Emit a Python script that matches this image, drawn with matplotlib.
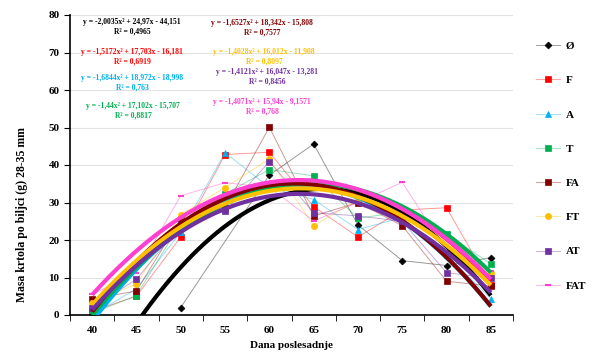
import numpy as np
import matplotlib
matplotlib.use("Agg")
import matplotlib.pyplot as plt
from matplotlib.lines import Line2D

plt.rcParams["font.family"] = ["Liberation Serif", "DejaVu Serif"]
plt.rcParams["font.weight"] = "bold"

# Days after planting (category axis)
days = [40, 45, 50, 55, 60, 65, 70, 75, 80, 85]
nan = np.nan

# Tuber mass per plant (g), 28-35 mm fraction
ser_0 = [nan, nan, 2.0, nan, 37.3, 45.6, 24.0, 14.5, 13.2, 15.3]
ser_F = [1.0, 5.0, 20.8, 42.8, 43.4, 28.9, 20.8, 28.0, 28.6, 8.0]
ser_A = [0.0, 7.0, 22.1, 43.3, 34.0, 30.8, 22.8, 26.0, 16.0, 4.4]
ser_T = [0.5, 5.2, 24.5, 32.3, 38.8, 37.1, 25.8, 27.5, 21.6, 13.6]
ser_FA = [4.3, 6.4, 25.7, 28.6, 50.1, 26.4, 30.0, 23.8, 9.0, 7.7]
ser_FT = [3.3, 8.3, 26.8, 34.0, 41.6, 23.8, 30.8, 26.0, 16.0, 11.1]
ser_AT = [2.0, 9.5, 24.0, 27.7, 40.9, 27.3, 26.4, 25.0, 11.3, 9.8]
ser_FAT = [5.5, 11.3, 31.8, 35.3, 34.0, 25.1, 30.0, 35.4, 17.0, 11.7]

labels = ["Ø", "F", "A", "T", "FA", "FT", "AT", "FAT"]
series = [ser_0, ser_F, ser_A, ser_T, ser_FA, ser_FT, ser_AT, ser_FAT]

# Polynomial trendlines (x = 1..10), coefficients a, b, c and R²
coef_a = [-2.0035, -1.5172, -1.6844, -1.44, -1.6527, -1.4028, -1.4121, -1.4071]
coef_b = [24.97, 17.703, 18.972, 17.102, 18.342, 16.012, 16.047, 15.94]
coef_c = [-44.151, -16.181, -18.998, -15.707, -15.808, -11.908, -13.281, -9.1571]
r2 = ["0,4965", "0,6919", "0,763", "0,8817", "0,7577", "0,8097", "0,8456", "0,768"]

colors = ["#000000", "#FF0000", "#00B0F0", "#00B050", "#800000", "#FFC000", "#7030A0", "#FF3FD0"]
markers = ["D", "s", "^", "s", "s", "o", "s", "_"]
msizes = [3.5, 4.5, 4.5, 4.5, 4.5, 4.5, 4.5, 4]

W, H = 592, 361
fig = plt.figure(figsize=(W / 100, H / 100), dpi=100)
ax = fig.add_axes([70 / W, (H - 315) / H, 443 / W, 300 / H])

x = np.arange(1, len(days) + 1)
xs = np.linspace(1, 10, 200)

handles = []
for i, vals in enumerate(series):
    v = np.array(vals, dtype=float)
    m = ~np.isnan(v)
    mew = 1.5 if markers[i] == "_" else 0.5
    # faint connecting line, solid markers
    ax.plot(x[m], v[m], color=colors[i], lw=0.7, alpha=0.4, zorder=2)
    ax.plot(x[m], v[m], ls="none", marker=markers[i], ms=msizes[i],
            mfc=colors[i], mec=colors[i], markeredgewidth=mew, zorder=2.5)
    handles.append(Line2D([], [], color=colors[i], lw=0.8, alpha=0.35))
    handles[-1] = (handles[-1], Line2D([], [], ls="none", marker=markers[i], ms=msizes[i],
                                       mfc=colors[i], mec=colors[i], markeredgewidth=mew))

for i in range(len(series)):
    ys = coef_a[i] * xs ** 2 + coef_b[i] * xs + coef_c[i]
    ax.plot(xs, ys, color=colors[i], lw=3, solid_capstyle="butt", zorder=3)

ax.set_xlim(0.5, 10.5)
ax.set_ylim(0, 80)
ax.set_yticks(np.arange(0, 81, 10))
ax.yaxis.grid(True, color="#E3E3E3", lw=0.8)
ax.set_axisbelow(True)
ax.set_xticks(x)
ax.set_xticklabels([str(d) for d in days])
ax.set_xticks(np.arange(0.5, 11, 1), minor=True)
ax.tick_params(axis="x", which="major", length=0, labelsize=8, pad=8)
ax.tick_params(axis="x", which="minor", length=4, direction="out")
ax.tick_params(axis="y", length=4, direction="out", labelsize=8)
for s in ["top", "right"]:
    ax.spines[s].set_visible(False)
for s in ["left", "bottom"]:
    ax.spines[s].set_linewidth(1.2)

ax.set_xlabel("Dana poslesadnje", fontsize=8, fontweight="bold")
fig.text(22 / W, 1 - 215 / H, "Masa krtola po biljci (g) 28-35 mm", rotation=90,
         ha="center", va="center", fontsize=8.5, fontweight="bold")

# Trendline equations
def eq_text(i):
    a = f"{coef_a[i]:g}".replace(".", ",")
    b = f"{coef_b[i]:g}".replace(".", ",")
    c = f"{-coef_c[i]:g}".replace(".", ",")
    return f"y = {a}x² + {b}x - {c}\nR² = {r2[i]}"

eq_pos = [(132, 27), (132, 57), (132, 83), (133, 111),
          (262, 28), (264, 57), (267, 77), (262, 107)]
for i, (px, py) in enumerate(eq_pos):
    fig.text(px / W, 1 - py / H, eq_text(i), ha="center", va="center",
             fontsize=5.5, fontweight="bold", color=colors[i], linespacing=1.3)

fig.legend(handles, labels, loc="center left", bbox_to_anchor=(530 / W, 1 - 166 / H),
           frameon=False, fontsize=8, handlelength=2.2, labelspacing=2.2,
           handletextpad=0.5, borderpad=0)

fig.savefig("out.png", dpi=100)
